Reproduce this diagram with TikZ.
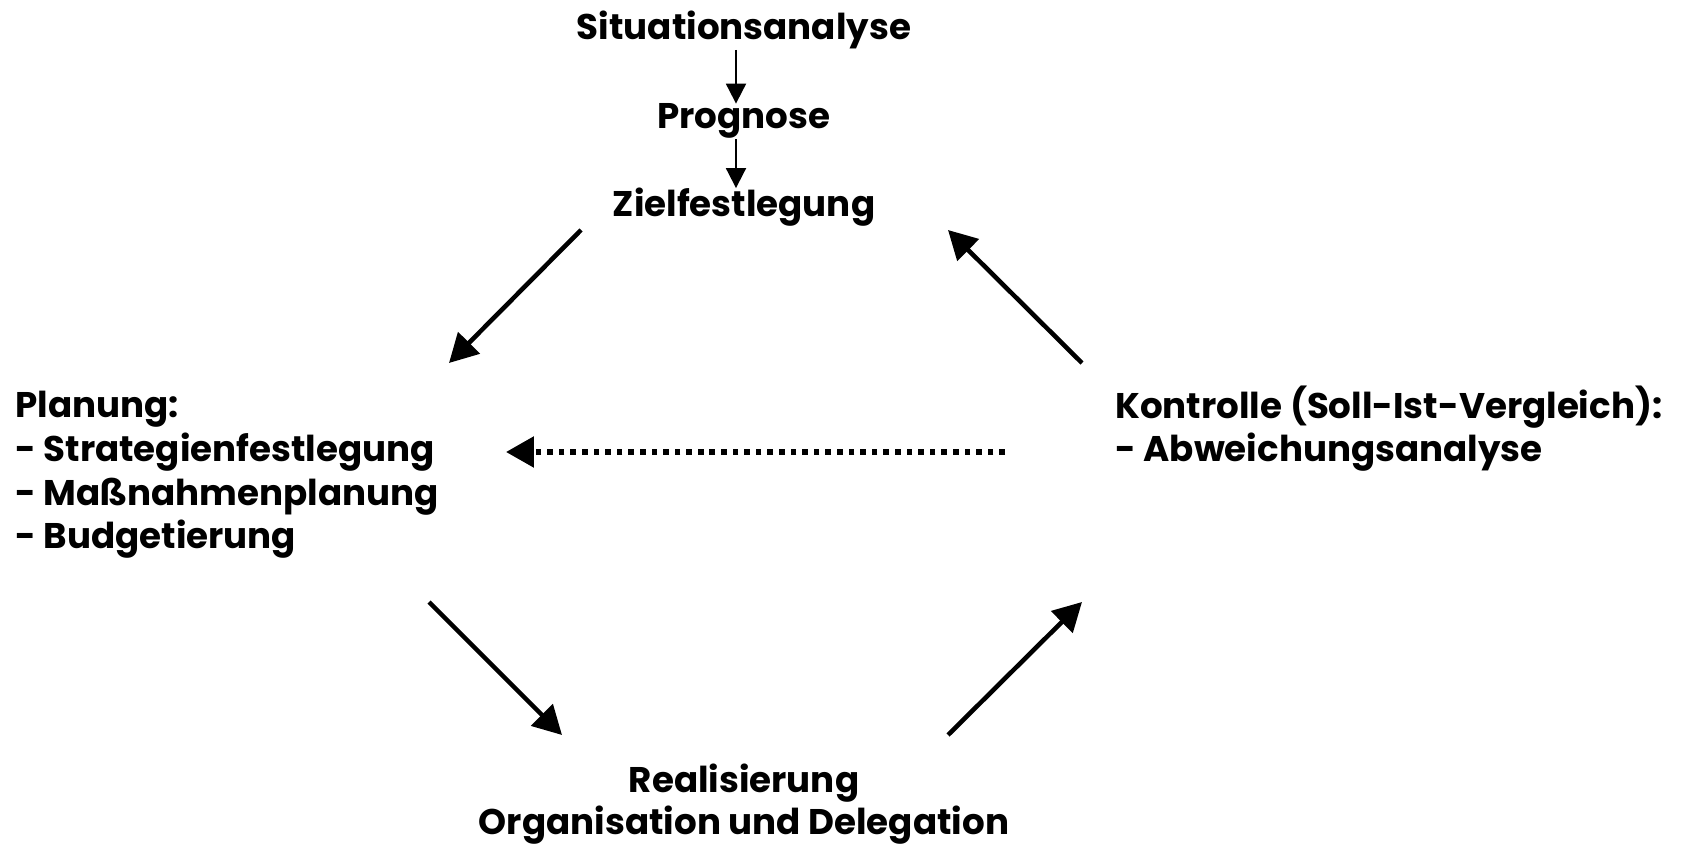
\documentclass[tikz,border=0pt]{standalone}
\usepackage{fontspec}
\setmainfont{Poppins}
\usetikzlibrary{arrows.meta}

\tikzset{
  lbl/.style={font=\fontsize{20.3}{25}\selectfont\bfseries, inner sep=0pt},
  bigarrow/.style={line width=2.6pt, -{Triangle[length=0.57cm,width=0.6cm]}},
  smallarrow/.style={line width=1.1pt, -{Triangle[length=0.4cm,width=0.4cm]}},
  dotarrow/.style={line width=3.2pt, dash pattern=on 3.2pt off 3.4pt, -{Triangle[length=0.56cm,width=0.6cm]}}
}

\begin{document}
\begin{tikzpicture}[x=0.02cm, y=-0.02cm]
            \useasboundingbox (0,0) rectangle (1685,847);

            % Top chain
            \node[lbl, anchor=base] (situation) at (744, 40) {Situationsanalyse};
            \node[lbl, anchor=base] (prognose) at (744, 129) {Prognose};
            \node[lbl, anchor=base] (ziel) at (744, 217) {Zielfestlegung};
            \draw[smallarrow] (situation.south -| 736,0) -- (prognose.north -| 736,0);
            \draw[smallarrow] (prognose.south -| 736,0) -- (ziel.north -| 736,0);

            % Side blocks (base = last line)
            \node[lbl, anchor=base west, align=left] (planung) at (15, 549)
                {Planung:\\- Strategienfestlegung\\- Maßnahmenplanung\\- Budgetierung};
            \node[lbl, anchor=base west, align=left] (kontrolle) at (1115, 462)
                {Kontrolle (Soll-Ist-Vergleich):\\- Abweichungsanalyse};

            % Bottom
            \node[lbl, anchor=base] (real) at (744, 793) {Realisierung};
            \node[lbl, anchor=base] (orga) at (744, 835) {Organisation und Delegation};

            % Arrow ends
            \coordinate (zielout) at (581, 230);
            \coordinate (planin) at (449, 363);
            \coordinate (planout) at (429, 602);
            \coordinate (realin) at (562, 735);
            \coordinate (realout) at (948, 735);
            \coordinate (kontin) at (1082, 602);
            \coordinate (kontout) at (1082, 363);
            \coordinate (zielin) at (948, 230);
            \coordinate (backout) at (1005, 452);
            \coordinate (backin) at (506, 452);

            % Cycle
            \draw[bigarrow] (zielout) -- (planin);
            \draw[bigarrow] (planout) -- (realin);
            \draw[bigarrow] (realout) -- (kontin);
            \draw[bigarrow] (kontout) -- (zielin);
            \draw[dotarrow] (backout) -- (backin);
        \end{tikzpicture}
\end{document}
